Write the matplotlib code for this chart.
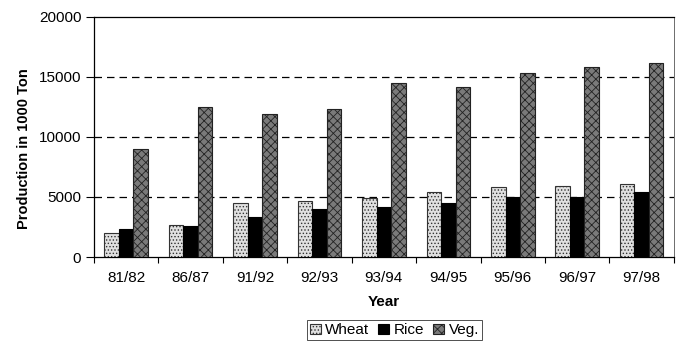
import matplotlib
matplotlib.use("Agg")
import matplotlib.pyplot as plt
import numpy as np

plt.rcParams['font.family'] = ['Liberation Sans', 'DejaVu Sans']
plt.rcParams['hatch.linewidth'] = 0.6

years = ["81/82", "86/87", "91/92", "92/93", "93/94", "94/95", "95/96", "96/97", "97/98"]
wheat = [2000, 2700, 4500, 4700, 4900, 5400, 5800, 5900, 6100]
rice = [2300, 2600, 3300, 4000, 4200, 4500, 5000, 5000, 5400]
veg = [9000, 12500, 11900, 12300, 14500, 14200, 15300, 15800, 16200]
series_names = ["Wheat", "Rice", "Veg."]
y_ticks = [0, 5000, 10000, 15000, 20000]

fig = plt.figure(figsize=(6.8, 3.45), dpi=100)
ax = fig.add_axes([0.138, 0.255, 0.853, 0.696])

x = np.arange(len(years))
w = 0.225
b1 = ax.bar(x - w, wheat, w, facecolor='#e0e0e0', edgecolor='#333333', hatch='.....', linewidth=0.8, label=series_names[0], zorder=3)
b2 = ax.bar(x, rice, w, facecolor='black', edgecolor='black', linewidth=0.8, label=series_names[1], zorder=3)
b3 = ax.bar(x + w, veg, w, facecolor='#7a7a7a', edgecolor='#222222', hatch='xxxx', linewidth=0.8, label=series_names[2], zorder=3)

ax.set_xlim(-0.5, len(years) - 0.5)
ax.set_ylim(0, 20000)
ax.set_yticks(y_ticks)
ax.set_yticklabels([str(v) for v in y_ticks], fontsize=11)
ax.set_xticks(x)
ax.set_xticklabels(years, fontsize=11)
ax.tick_params(axis='x', length=0, pad=10)
ax.set_xticks(np.arange(len(years) + 1) - 0.5, minor=True)
ax.tick_params(axis='x', which='minor', length=4, direction='out', width=0.8)
ax.tick_params(axis='y', length=6, direction='out', width=0.8, pad=3)

for v in y_ticks[1:-1]:
    ax.axhline(v, color='black', linestyle=(0, (6, 4)), linewidth=0.9, zorder=1)

for s in ['left', 'bottom', 'top']:
    ax.spines[s].set_linewidth(0.9)
ax.spines['right'].set_linewidth(0.6)
ax.spines['right'].set_color('#555555')
ax.spines['right'].set_linestyle((0, (1, 1)))

ax.set_ylabel("Production in 1000 Ton", fontsize=10.5, fontweight='bold', labelpad=5)
ax.yaxis.set_label_coords(-0.108, 0.45)
ax.set_xlabel("Year", fontsize=11, fontweight='bold', labelpad=7)

leg = fig.legend(handles=[b1, b2, b3], labels=series_names, loc='upper center',
                 bbox_to_anchor=(0.58, 0.072), ncol=3, fontsize=11, frameon=True,
                 fancybox=False, edgecolor='black', handlelength=0.7, handleheight=0.7,
                 handletextpad=0.3, columnspacing=0.6, borderpad=0.2, borderaxespad=0)
leg.get_frame().set_linewidth(0.6)

fig.savefig("out.png", dpi=100)
